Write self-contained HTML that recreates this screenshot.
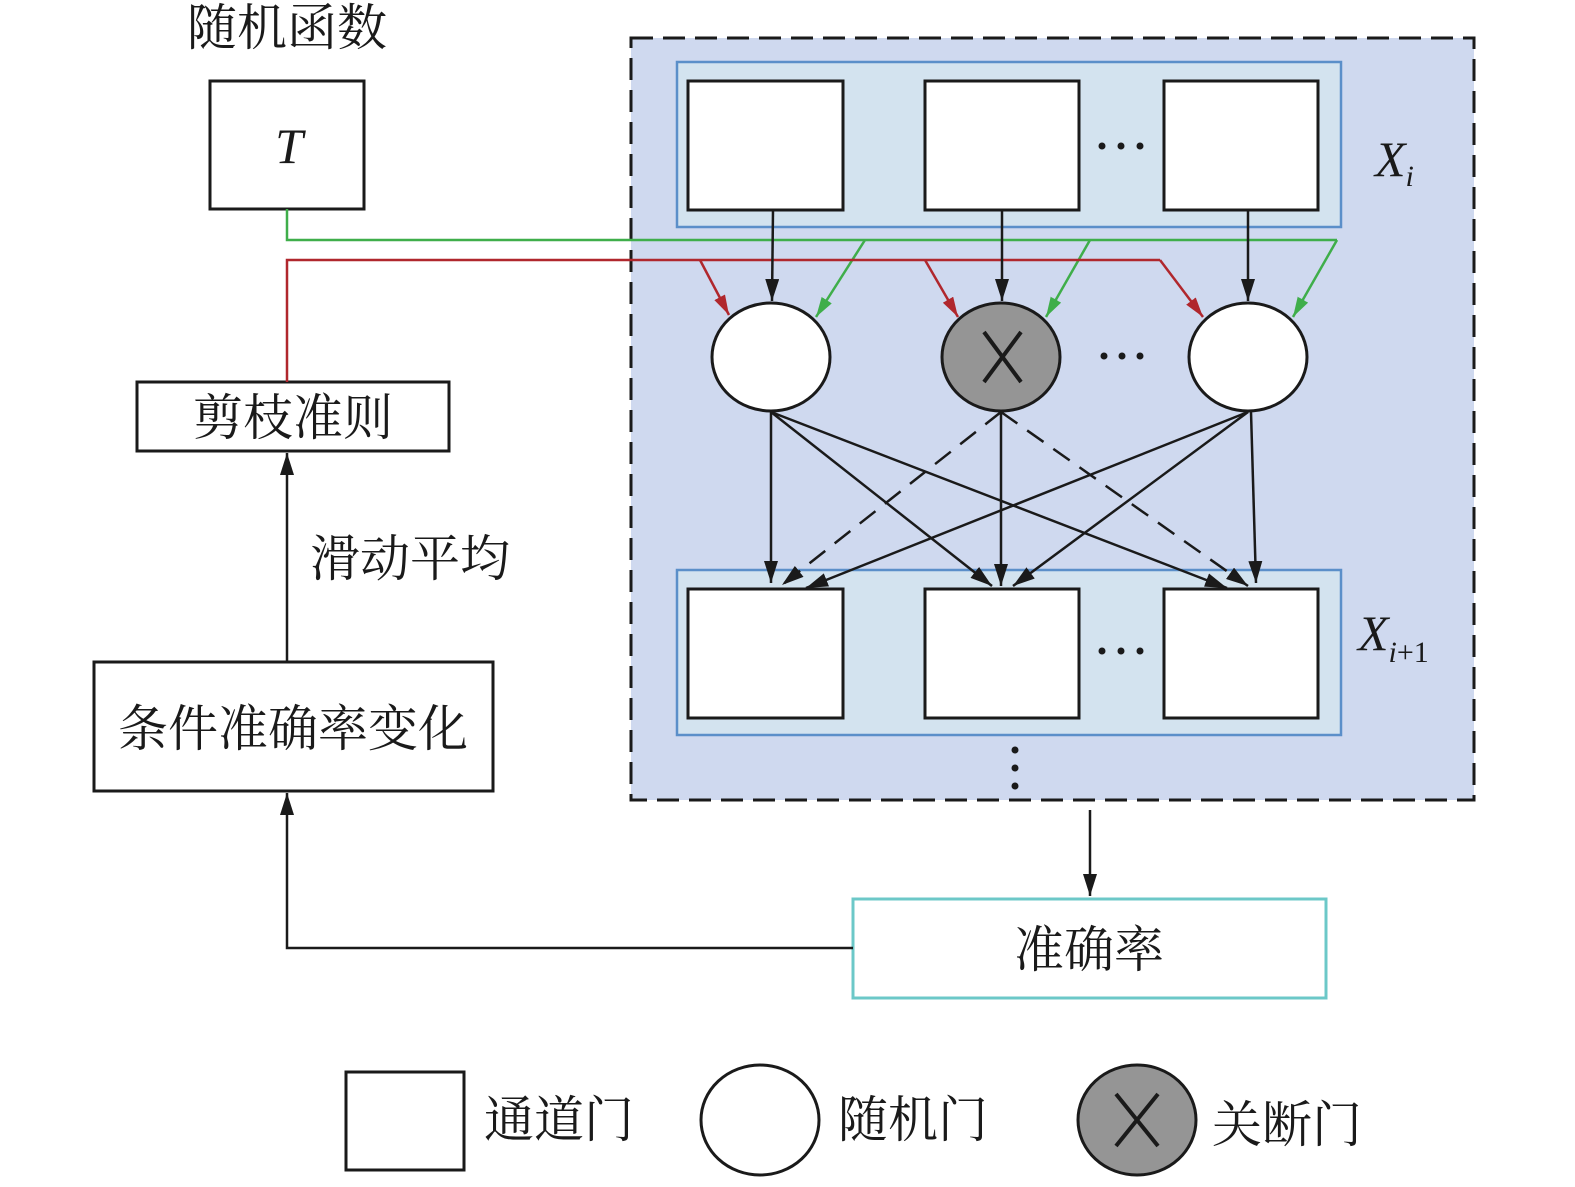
<!DOCTYPE html>
<html><head><meta charset="utf-8"><style>
body{margin:0;background:#fff}
svg text{font-family:"Liberation Serif","Noto Serif CJK SC",serif;fill:#1a1a1a}
</style></head><body>
<svg width="1575" height="1182" viewBox="0 0 1575 1182" xmlns="http://www.w3.org/2000/svg">
<defs>
<marker id="ak" viewBox="0 0 10 10" refX="10" refY="5" markerWidth="9" markerHeight="9" orient="auto" markerUnits="userSpaceOnUse"><path d="M0,0 L10,5 L0,10 Z" fill="#1a1a1a"/></marker>
<marker id="ab" viewBox="0 0 10 10" refX="10" refY="5" markerWidth="22" markerHeight="14" orient="auto" markerUnits="userSpaceOnUse" preserveAspectRatio="none"><path d="M0,0 L10,5 L0,10 Z" fill="#1a1a1a"/></marker>
<marker id="ar" viewBox="0 0 10 10" refX="10" refY="5" markerWidth="20" markerHeight="12" orient="auto" markerUnits="userSpaceOnUse" preserveAspectRatio="none"><path d="M0,0 L10,5 L0,10 Z" fill="#b0272d"/></marker>
<marker id="ag" viewBox="0 0 10 10" refX="10" refY="5" markerWidth="20" markerHeight="12" orient="auto" markerUnits="userSpaceOnUse" preserveAspectRatio="none"><path d="M0,0 L10,5 L0,10 Z" fill="#3fae4a"/></marker>
</defs>
<rect x="631" y="38" width="843" height="762" fill="#cfd9ef" stroke="#1a1a1a" stroke-width="3" stroke-dasharray="22,10"/>
<rect x="677" y="62" width="664" height="165" fill="#d3e3ef" stroke="#5b8fc9" stroke-width="2.5"/>
<rect x="677" y="570" width="664" height="165" fill="#d3e3ef" stroke="#5b8fc9" stroke-width="2.5"/>
<g fill="#fff" stroke="#1a1a1a" stroke-width="3">
<rect x="688" y="81" width="155" height="129"/><rect x="925" y="81" width="154" height="129"/><rect x="1164" y="81" width="154" height="129"/>
<rect x="688" y="589" width="155" height="129"/><rect x="925" y="589" width="154" height="129"/><rect x="1164" y="589" width="154" height="129"/>
<rect x="210" y="81" width="154" height="128"/>
<rect x="137" y="382" width="312" height="69"/>
<rect x="94" y="662" width="399" height="129"/>
</g>
<rect x="853" y="899" width="473" height="99" fill="#fff" stroke="#6cc8c8" stroke-width="3"/>
<g fill="#1a1a1a"><circle cx="1102" cy="146" r="3.5"/><circle cx="1121" cy="146" r="3.5"/><circle cx="1140" cy="146" r="3.5"/>
<circle cx="1102" cy="651" r="3.5"/><circle cx="1121" cy="651" r="3.5"/><circle cx="1140" cy="651" r="3.5"/>
<circle cx="1104" cy="356" r="3.5"/><circle cx="1122" cy="356" r="3.5"/><circle cx="1140" cy="356" r="3.5"/>
<circle cx="1015" cy="750" r="3.5"/><circle cx="1015" cy="768" r="3.5"/><circle cx="1015" cy="786" r="3.5"/></g>
<!-- green/red -->
<polyline points="287,209 287,240 1337,240" fill="none" stroke="#3fae4a" stroke-width="2.5"/>
<g stroke="#3fae4a" stroke-width="2.5" marker-end="url(#ag)"><line x1="865" y1="240" x2="816" y2="317"/><line x1="1090" y1="240" x2="1046" y2="317"/><line x1="1337" y1="240" x2="1293" y2="317"/></g>
<polyline points="287,382 287,260 1160,260" fill="none" stroke="#b0272d" stroke-width="2.5"/>
<g stroke="#b0272d" stroke-width="2.5" marker-end="url(#ar)"><line x1="700" y1="260" x2="729" y2="315"/><line x1="925" y1="260" x2="958" y2="317"/><line x1="1160" y1="260" x2="1203" y2="317"/></g>
<g stroke="#1a1a1a" stroke-width="2.5" marker-end="url(#ab)">
<line x1="773" y1="210" x2="772" y2="301"/><line x1="1002" y1="210" x2="1002" y2="301"/><line x1="1248" y1="210" x2="1248" y2="301"/>
<line x1="771" y1="412" x2="771" y2="583"/><line x1="771" y1="412" x2="992" y2="586"/><line x1="771" y1="412" x2="1227" y2="588"/>
<line x1="1001" y1="412" x2="1001" y2="586"/>
<line x1="1248" y1="412" x2="806" y2="588"/><line x1="1248" y1="412" x2="1013" y2="586"/><line x1="1251" y1="412" x2="1256" y2="583"/>
</g>
<g stroke="#1a1a1a" stroke-width="2.5" stroke-dasharray="20,12" marker-end="url(#ab)">
<line x1="1001" y1="412" x2="782" y2="585"/><line x1="1001" y1="412" x2="1248" y2="586"/>
</g>
<ellipse cx="771" cy="357" rx="59" ry="54" fill="#fff" stroke="#1a1a1a" stroke-width="3"/>
<ellipse cx="1001" cy="357" rx="59" ry="54" fill="#959595" stroke="#1a1a1a" stroke-width="3"/>
<ellipse cx="1248" cy="357" rx="59" ry="54" fill="#fff" stroke="#1a1a1a" stroke-width="3"/>
<g stroke="#1a1a1a" stroke-width="4"><line x1="984" y1="332" x2="1021" y2="382"/><line x1="1021" y1="332" x2="984" y2="382"/></g>
<!-- left arrows -->
<g stroke="#1a1a1a" stroke-width="2.5" marker-end="url(#ab)">
<line x1="287" y1="662" x2="287" y2="453"/>
<polyline points="853,948 287,948 287,793" fill="none"/>
<line x1="1090" y1="810" x2="1090" y2="896"/>
</g>
<!-- legend -->
<rect x="346" y="1072" width="118" height="98" fill="#fff" stroke="#1a1a1a" stroke-width="3"/>
<ellipse cx="760" cy="1120" rx="59" ry="55" fill="#fff" stroke="#1a1a1a" stroke-width="3"/>
<ellipse cx="1137" cy="1120" rx="59" ry="55" fill="#959595" stroke="#1a1a1a" stroke-width="3"/>
<g stroke="#1a1a1a" stroke-width="4"><line x1="1116" y1="1094" x2="1158" y2="1146"/><line x1="1158" y1="1094" x2="1116" y2="1146"/></g>
<!-- text -->
<text x="287" y="45" font-size="50" text-anchor="middle">随机函数</text>
<text x="289" y="163" font-size="50" font-style="italic" text-anchor="middle">T</text>
<text x="293" y="435" font-size="50" text-anchor="middle">剪枝准则</text>
<text x="410" y="576" font-size="50" text-anchor="middle">滑动平均</text>
<text x="293" y="746" font-size="50" text-anchor="middle">条件准确率变化</text>
<text x="1089" y="967" font-size="50" text-anchor="middle">准确率</text>
<text x="1375" y="176" font-size="50" font-style="italic">X<tspan font-size="30" dy="10">i</tspan></text>
<text x="1358" y="650" font-size="50" font-style="italic">X<tspan font-size="30" dy="12">i</tspan><tspan font-size="30" font-style="normal">+1</tspan></text>
<text x="484" y="1137" font-size="50">通道门</text>
<text x="838" y="1137" font-size="50">随机门</text>
<text x="1212" y="1142" font-size="50">关断门</text>
</svg>
</body></html>
